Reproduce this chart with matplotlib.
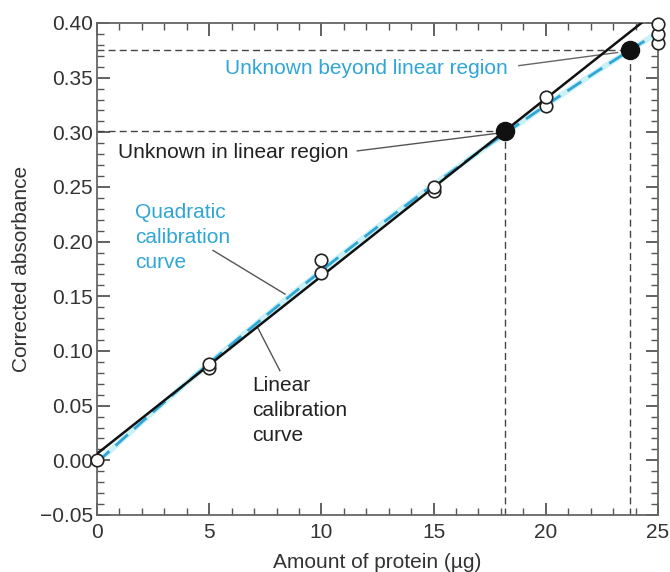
import numpy as np
import matplotlib.pyplot as plt
from matplotlib.ticker import MultipleLocator

plt.rcParams['font.family'] = ['Liberation Sans', 'DejaVu Sans']

# Standards (open circles)
std_x = [0, 5, 5, 10, 10, 15, 15, 20, 20, 25, 25, 25]
std_y = [0.000, 0.084, 0.088, 0.171, 0.183, 0.246, 0.250, 0.324, 0.332, 0.382, 0.390, 0.399]

# Unknowns (filled circles)
unk_x = [18.2, 23.75]
unk_y = [0.301, 0.375]

BLUE = '#2fa6d6'
GRAY = '#444444'
FS = 15

std_x = np.array(std_x)
std_y = np.array(std_y)

# linear fit over linear region (0-20 ug), quadratic over all standards
lin = np.polyfit(std_x[std_x <= 20], std_y[std_x <= 20], 1)
quad = np.polyfit(std_x, std_y, 2)
xx = np.linspace(0, 25.5, 300)

fig = plt.figure(figsize=(6.7, 5.72), dpi=100)
ax = fig.add_axes([0.1448, 0.0997, 0.8372, 0.8601])

# reference dashed lines for unknowns
for ux, uy in zip(unk_x, unk_y):
    ax.plot([0, ux], [uy, uy], ls=(0, (5, 3)), color=GRAY, lw=1.0, zorder=2)
    ax.plot([ux, ux], [-0.05, uy], ls=(0, (5, 3)), color=GRAY, lw=1.0, zorder=2)

ax.plot(xx, np.polyval(quad, xx), color='#a8e8f0', lw=4, alpha=0.6, zorder=3)
ax.plot(xx, np.polyval(quad, xx), color=BLUE, lw=2.0, ls=(0, (6, 3)), zorder=4)
ax.plot(xx, np.polyval(lin, xx), color='#111111', lw=1.8, zorder=5)

ax.plot(std_x, std_y, 'o', ms=9, mfc='white', mec='#222222', mew=1.2,
        zorder=6, clip_on=False)
ax.plot(unk_x, unk_y, 'o', ms=13, mfc='#111111', mec='#111111', zorder=7)

# annotations
ax.text(5.7, 0.358, 'Unknown beyond linear region', color=BLUE, fontsize=FS,
        va='center', ha='left')
ax.plot([18.8, 23.2], [0.361, 0.373], color='#666666', lw=1.0, zorder=3)

ax.text(0.95, 0.2815, 'Unknown in linear region', color='#222222', fontsize=FS,
        va='center', ha='left')
ax.plot([11.6, 17.8], [0.283, 0.299], color='#555555', lw=1.0, zorder=3)

ax.text(1.7, 0.204, 'Quadratic\ncalibration\ncurve', color=BLUE, fontsize=FS,
        va='center', ha='left', linespacing=1.4)
ax.plot([5.17, 8.38], [0.192, 0.152], color='#555555', lw=1.0, zorder=3)

ax.text(6.9, 0.0457, 'Linear\ncalibration\ncurve', color='#222222', fontsize=FS,
        va='center', ha='left', linespacing=1.4)
ax.plot([8.15, 7.17], [0.082, 0.121], color='#555555', lw=1.0, zorder=3)

ax.set_xlim(0, 25)
ax.set_ylim(-0.05, 0.40)
ax.xaxis.set_major_locator(MultipleLocator(5))
ax.xaxis.set_minor_locator(MultipleLocator(1))
ax.yaxis.set_major_locator(MultipleLocator(0.05))
ax.yaxis.set_minor_locator(MultipleLocator(0.01))
ax.yaxis.set_major_formatter(plt.FuncFormatter(lambda v, p: f'{v:.2f}'.replace('-', '\u2212')))

ax.tick_params(which='both', direction='in', top=True, right=True,
               color='#555555', labelsize=FS, labelcolor='#333333')
ax.tick_params(axis='x', which='major', pad=6)
ax.tick_params(axis='y', which='major', pad=3)
ax.tick_params(which='major', length=9, width=1.3)
ax.tick_params(which='minor', length=5, width=1.0)
for s in ax.spines.values():
    s.set_color('#666666')
    s.set_linewidth(1.3)

ax.set_xlabel('Amount of protein (\u00b5g)', fontsize=FS, color='#333333', labelpad=8)
ax.set_ylabel('Corrected absorbance', fontsize=FS, color='#333333', labelpad=6)

fig.savefig('out.png', dpi=100)
